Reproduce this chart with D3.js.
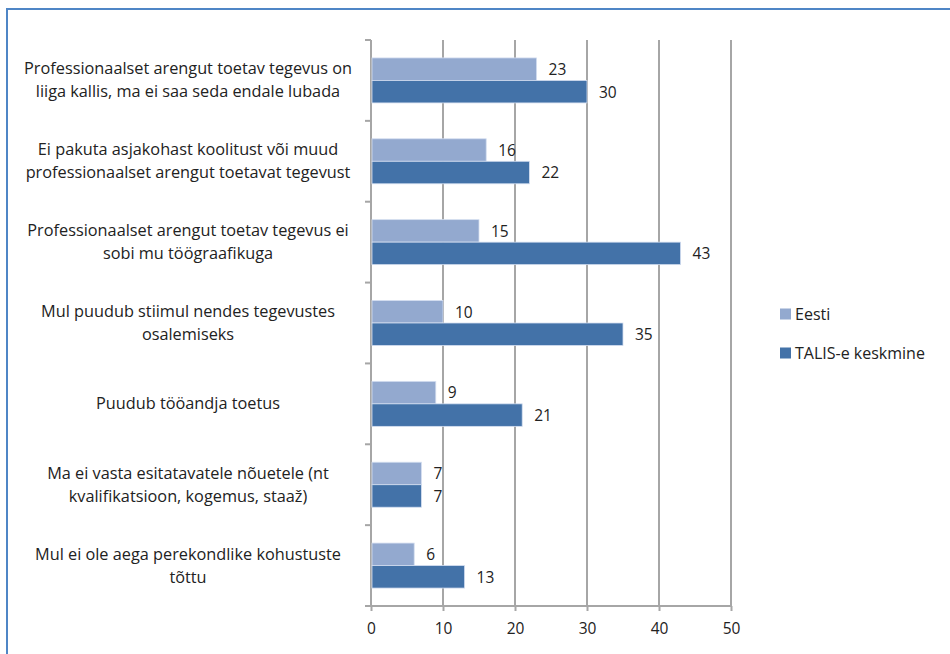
<!DOCTYPE html>
<html><head><meta charset="utf-8">
<script src="https://cdn.jsdelivr.net/npm/d3@7"></script>
<style>body{margin:0;background:#fff}svg{display:block}text{font-family:"Open Sans",sans-serif;fill:#222}</style>
</head><body><svg id="c" width="950" height="654"></svg>
<script>
const categories = [
  ["Professionaalset arengut toetav tegevus on","liiga kallis, ma ei saa seda endale lubada"],
  ["Ei pakuta asjakohast koolitust või muud","professionaalset arengut toetavat tegevust"],
  ["Professionaalset arengut toetav tegevus ei","sobi mu töögraafikuga"],
  ["Mul puudub stiimul nendes tegevustes","osalemiseks"],
  ["Puudub tööandja toetus"],
  ["Ma ei vasta esitatavatele nõuetele (nt","kvalifikatsioon, kogemus, staaž)"],
  ["Mul ei ole aega perekondlike kohustuste","tõttu"]
];
const eesti = [23,16,15,10,9,7,6];
const talis = [30,22,43,35,21,7,13];
const seriesNames = ["Eesti","TALIS-e keskmine"];
const xTicks = [0,10,20,30,40,50];
const colors = ["#93a9cf","#4372a8"];

const svg = d3.select("#c");
svg.append("rect").attr("x",7).attr("y",9).attr("width",960).attr("height",700)
  .attr("fill","none").attr("stroke","#4f86c6").attr("stroke-width",2);

const x = d3.scaleLinear().domain([0,50]).range([371,731]);
const y = d3.scaleBand().domain(d3.range(categories.length)).range([40,606]);
const grid = "#a6a6a6";

svg.append("g").selectAll("line").data(xTicks.slice(1)).join("line")
  .attr("x1",d=>x(d)).attr("x2",d=>x(d)).attr("y1",40).attr("y2",606)
  .attr("stroke",grid).attr("stroke-width",2);

const xa = svg.append("g").attr("transform","translate(0,606)")
  .call(d3.axisBottom(x).tickValues(xTicks).tickSize(5).tickPadding(12));
xa.select(".domain").remove();
xa.selectAll(".tick line").attr("stroke",grid).attr("stroke-width",2);
xa.selectAll(".tick text").attr("font-size",15.5).attr("fill","#222").style("font-family","Open Sans");
svg.append("line").attr("x1",365).attr("x2",731).attr("y1",606).attr("y2",606).attr("stroke",grid).attr("stroke-width",2);

svg.append("line").attr("x1",371).attr("x2",371).attr("y1",40).attr("y2",606).attr("stroke",grid).attr("stroke-width",2);
svg.append("g").selectAll("line").data(d3.range(categories.length)).join("line")
  .attr("x1",365).attr("x2",371).attr("y1",d=>y(d)).attr("y2",d=>y(d))
  .attr("stroke",grid).attr("stroke-width",2);

const bh = 22.5;
const groups = svg.append("g").selectAll("g").data(categories).join("g")
  .attr("transform",(d,i)=>`translate(0,${y(i)+y.bandwidth()/2})`);

[eesti,talis].forEach((vals,si)=>{
  groups.append("rect")
    .attr("x",x(0)+1).attr("y",si===0?-bh:0)
    .attr("width",(d,i)=>x(vals[i])-x(0)-1).attr("height",bh)
    .attr("fill",colors[si]).attr("stroke","#d4def0").attr("stroke-width",0.8);
  groups.append("text")
    .attr("x",(d,i)=>x(vals[i])+12).attr("y",si===0?-bh/2:bh/2).attr("dy","0.38em")
    .attr("font-size",15.5).text((d,i)=>vals[i]);
});

groups.each(function(lines){
  const g = d3.select(this);
  const n = lines.length;
  lines.forEach((l,k)=>{
    g.append("text").attr("x",188).attr("y",(k-(n-1)/2)*23).attr("dy","0.34em")
      .attr("text-anchor","middle").attr("font-size",16.3).text(l);
  });
});

const lg = svg.append("g").selectAll("g").data(seriesNames).join("g")
  .attr("transform",(d,i)=>`translate(780,${314+i*39})`);
lg.append("rect").attr("x",0).attr("y",-5.5).attr("width",11).attr("height",11).attr("fill",(d,i)=>colors[i]);
lg.append("text").attr("x",15).attr("dy","0.36em").attr("font-size",16).text(d=>d);
</script></body></html>
